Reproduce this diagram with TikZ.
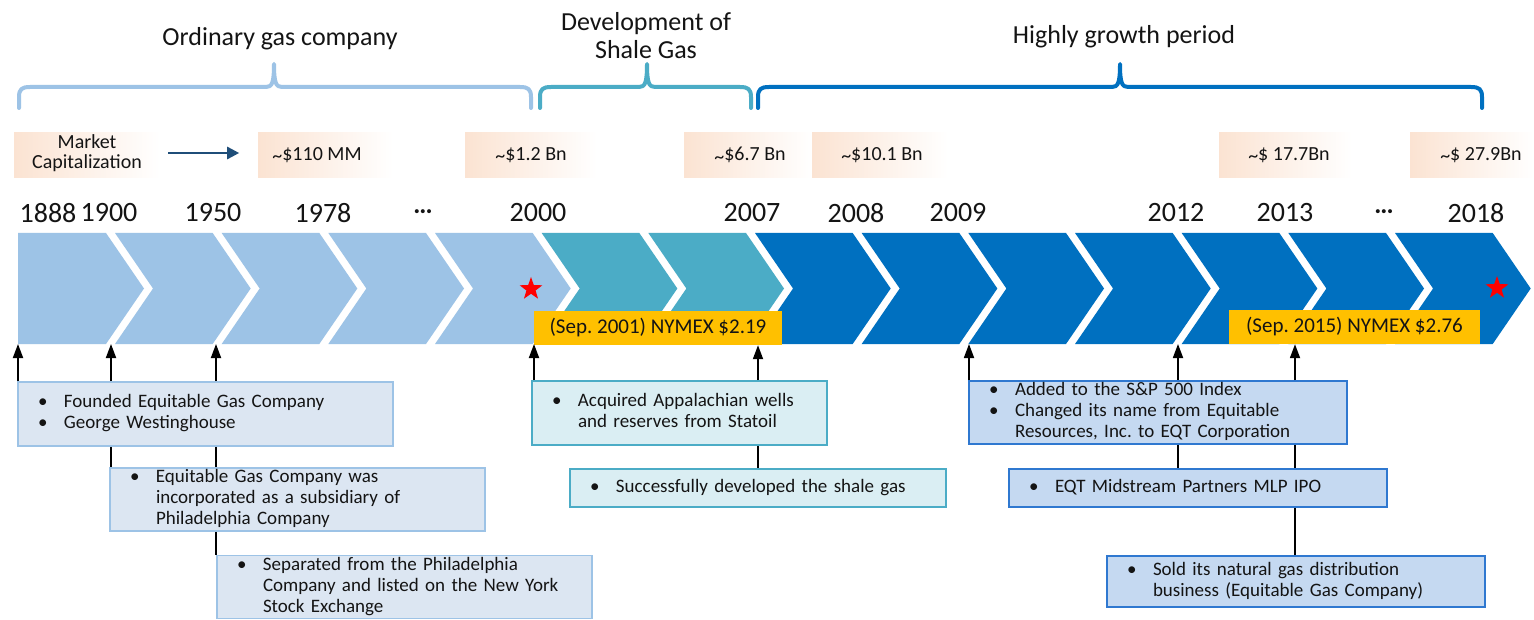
\documentclass[tikz,border=0pt]{standalone}
\usepackage{fontspec}
\setmainfont{Carlito}
\usetikzlibrary{arrows.meta,shapes.geometric}

\definecolor{lblue}{HTML}{9DC3E6}
\definecolor{tealc}{HTML}{4BACC6}
\definecolor{dblue}{HTML}{0070C0}
\definecolor{gold}{HTML}{FFC000}
\definecolor{peach}{HTML}{FBE3D2}
\definecolor{navy}{HTML}{1F4E79}
\definecolor{ink}{HTML}{141414}
\definecolor{fillA}{HTML}{DCE6F2}
\definecolor{fillD}{HTML}{DAEEF3}
\definecolor{fillF}{HTML}{C5D9F1}
\definecolor{lineF}{HTML}{2F78D0}

\newcommand{\fs}[2]{\fontsize{#1}{#2}\selectfont}
% bullet item with hanging lines: \bitem{first line\\second line}
\newcommand{\bitem}[1]{\makebox[26pt][l]{\textbullet}\begin{tabular}[t]{@{}l@{}}#1\end{tabular}}
\newcommand{\tld}{\raisebox{-0.3ex}{\textasciitilde}}
\newcommand{\ddd}{\textperiodcentered\kern-1pt\textperiodcentered\kern-1pt\textperiodcentered}
% period brace: left end, peak, right end, colour
\newcommand{\periodbrace}[4]{%
  \draw[brace,#4] (#1,108) -- (#1,97) .. controls (#1,89) and (#1+3,87) .. (#1+11,87)
    -- (#2-8,87) .. controls (#2-2,87) and (#2,83) .. (#2,64)
    .. controls (#2,83) and (#2+2,87) .. (#2+8,87)
    -- (#3-11,87) .. controls (#3-3,87) and (#3,89) .. (#3,97) -- (#3,108);}

\begin{document}
\begin{tikzpicture}[x=1pt,y=-1pt,
  title/.style={font=\fs{26}{28}, text=ink, align=center},
  year/.style={font=\fs{28}{30}, text=ink},
  capbox/.style={rectangle, inner sep=0pt, left color=peach, middle color=peach!80, right color=white,
                 minimum height=45pt},
  captext/.style={font=\fs{20}{20}, text=ink, align=center},
  brace/.style={line width=4pt, line cap=round, line join=round},
  nymex/.style={rectangle, fill=gold, inner sep=0pt, font=\fs{21}{22}, text=ink, minimum height=34pt},
  evbox/.style={rectangle, line width=1.6pt, inner xsep=20pt, inner ysep=0pt, font=\fs{19}{21},
                text=ink, align=left},
  boxA/.style={evbox, fill=fillA, draw=lblue},
  boxD/.style={evbox, fill=fillD, draw=tealc},
  boxF/.style={evbox, fill=fillF, draw=lineF},
  up/.style={line width=1.8pt, draw=black, -{Triangle[width=10pt,length=14pt]}},
  link/.style={line width=1.8pt, draw=black},
  redstar/.style={star, star points=5, star point ratio=2.5, fill=red, draw=none,
                  minimum size=24pt, inner sep=0pt}
]
\useasboundingbox (0,0) rectangle (1534,620);
\fill[white] (0,0) rectangle (1534,620);

% ---- period titles and braces ----
\node[title] (tOrd) at (280,39) {Ordinary gas company};
\node[title] (tDev) at (646,36) {Development of\\Shale Gas};
\node[title] (tHigh) at (1124,37) {Highly growth period};
\periodbrace{19}{274}{531}{lblue}
\periodbrace{540}{647}{751}{tealc}
\periodbrace{758}{1120}{1482}{dblue}

% ---- market capitalisation ----
\node[capbox, minimum width=146pt] (mc) at (87,155) {};
\node[captext] (mcText) at (87,153) {Market\\Capitalization};
\node[capbox, minimum width=135pt] (c110) at (325.5,155) {};
\node[captext] at (317,155) {\tld\$110 MM};
\node[capbox, minimum width=132pt] (c12) at (531,155) {};
\node[captext] at (531,155) {\tld\$1.2 Bn};
\node[capbox, minimum width=128pt] (c67) at (748,155) {};
\node[captext] at (750,155) {\tld\$6.7 Bn};
\node[capbox, minimum width=136pt] (c101) at (880,155) {};
\node[captext] at (882,155) {\tld\$10.1 Bn};
\node[capbox, minimum width=133pt] (c177) at (1285.5,155) {};
\node[captext] at (1289,155) {\tld\$ 17.7Bn};
\node[capbox, minimum width=124pt] (c279) at (1472,155) {};
\node[captext] at (1481,155) {\tld\$ 27.9Bn};
\draw[navy, line width=2.6pt, -{Triangle[width=12pt,length=12pt]}] (mc.east) ++(8,-2) coordinate (mcA) -- ++(71,0) coordinate (mcB);

% ---- years ----
\node[year] (y1888) at (48,213) {1888};
\node[year] (y1900) at (109,213) {1900};
\node[year] (y1950) at (213,213) {1950};
\node[year] (y1978) at (323,213) {1978};
\node[year] (yd1) at (423,215) {\ddd};
\node[year] (y2000) at (538,213) {2000};
\node[year] (y2007) at (752,213) {2007};
\node[year] (y2008) at (856,213) {2008};
\node[year] (y2009) at (958,213) {2009};
\node[year] (y2012) at (1176,213) {2012};
\node[year] (y2013) at (1285,213) {2013};
\node[year] (yd2) at (1384,215) {\ddd};
\node[year] (y2018) at (1476,213) {2018};

% ---- chevron band ----
\fill[lblue] (18,233) -- (106,233) -- (144,288.5) -- (106,344) -- (18,344) -- cycle;
\foreach \i/\col in {1/lblue,2/lblue,3/lblue,4/lblue,5/tealc,6/tealc,
                     7/dblue,8/dblue,9/dblue,10/dblue,11/dblue,12/dblue,13/dblue}{
  \pgfmathsetmacro{\L}{115+106.67*(\i-1)}
  \pgfmathsetmacro{\R}{115+106.67*\i-9}
  \fill[\col] (\L,233) -- (\R,233) -- (\R+38,288.5) -- (\R,344) -- (\L,344) -- (\L+38,288.5) -- cycle;
}

% ---- gas price tags and stars ----
\node[nymex, minimum width=248pt] (ny1) at (658,328) {(Sep.\ 2001) NYMEX \$2.19};
\node[nymex, minimum width=251pt] (ny2) at (1354.5,327) {(Sep.\ 2015) NYMEX \$2.76};
\node[redstar] (s1) at (531,289) {};
\node[redstar] (s2) at (1497,288) {};

% anchor points on the band
\coordinate (b1888) at (18,344);
\coordinate (b1900) at (111,344);
\coordinate (b1950) at (216,344);
\coordinate (b2000) at (534,344);
\coordinate (b2009) at (969,344);
\coordinate (b2012) at (1178,344);

% ---- event boxes ----
\node[boxA, minimum width=375pt, minimum height=64pt, text width=335pt] (A) at (205.5,414)
  {\bitem{Founded Equitable Gas Company}\\\bitem{George Westinghouse}};
\node[boxA, minimum width=375pt, minimum height=63pt, text width=335pt] (B) at (297.5,499.5)
  {\bitem{Equitable Gas Company was\\incorporated as a subsidiary of\\Philadelphia Company}};
\node[boxA, minimum width=375pt, minimum height=62pt, text width=335pt] (C) at (404.5,587)
  {\bitem{Separated from the Philadelphia\\Company and listed on the New York\\Stock Exchange}};
\node[boxD, minimum width=295pt, minimum height=64pt, text width=255pt] (D) at (679.5,413)
  {\bitem{Acquired Appalachian wells\\and reserves from Statoil}};
\node[boxD, minimum width=376pt, minimum height=38pt, text width=336pt] (E) at (758,488)
  {\bitem{Successfully developed the shale gas}};
\node[boxF, minimum width=378pt, minimum height=63pt, text width=338pt] (F) at (1158,412.5)
  {\bitem{Added to the S\&P 500 Index}\\\bitem{Changed its name from Equitable\\Resources, Inc.\ to EQT Corporation}};
\node[boxF, minimum width=378pt, minimum height=38pt, text width=338pt] (G) at (1198,488)
  {\bitem{EQT Midstream Partners MLP IPO}};
\node[boxF, minimum width=378pt, minimum height=51pt, text width=338pt] (H) at (1296,581.5)
  {\bitem{Sold its natural gas distribution\\business (Equitable Gas Company)}};

% ---- connectors ----
\draw[up] (A.north -| b1888) -- (b1888);
\draw[up] (A.north -| b1900) -- (b1900);
\draw[up] (A.north -| b1950) -- (b1950);
\draw[link] (A.south -| b1900) -- (B.north -| b1900);
\draw[link] (A.south -| b1950) -- (B.north -| b1950);
\draw[link] (B.south -| b1950) -- (C.north -| b1950);

\draw[up] (D.north -| b2000) -- (b2000);
\draw[up] (D.north -| E.north) -- (ny1.south -| E.north);
\draw[link] (D.south -| E.north) -- (E.north);

\draw[up] (F.north -| b2009) -- (b2009);
\draw[up] (F.north -| b2012) -- (b2012);
\coordinate (x2013) at (1295,0);
\draw[up] (F.north -| x2013) -- (ny2.south -| x2013);
\draw[link] (F.south -| b2012) -- (G.north -| b2012);
\draw[link] (F.south -| x2013) -- (G.north -| x2013);
\draw[link] (G.south -| x2013) -- (H.north -| x2013);
\end{tikzpicture}
\end{document}
